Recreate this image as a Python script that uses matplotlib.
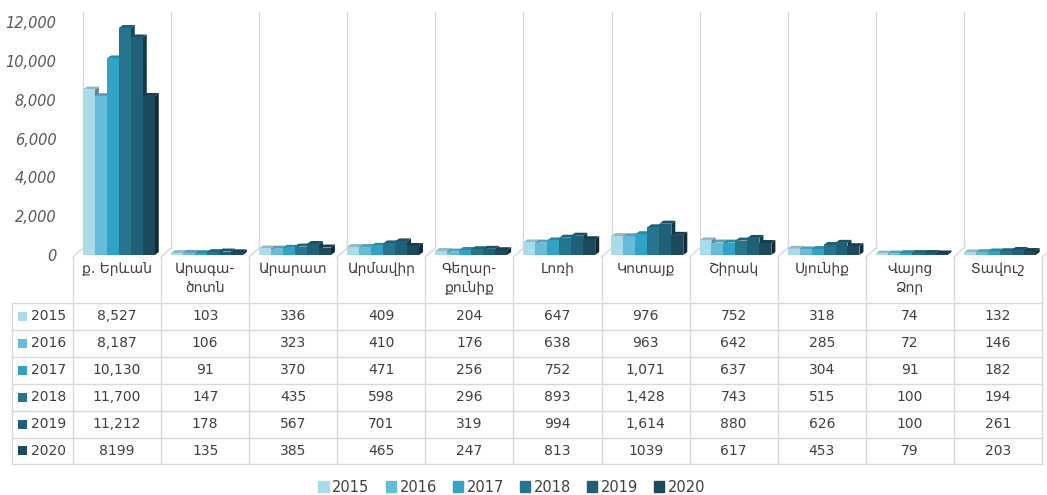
import numpy as np
import matplotlib
matplotlib.use('Agg')
import matplotlib.pyplot as plt
from matplotlib.patches import Polygon, Patch
from matplotlib.transforms import blended_transform_factory
from matplotlib.ticker import FuncFormatter

plt.rcParams['font.family'] = ['DejaVu Sans']

# regions and yearly counts
regions = ['ք. Երևան', 'Արագա-\nծոտն', 'Արարատ', 'Արմավիր', 'Գեղար-\nքունիք', 'Լոռի',
           'Կոտայք', 'Շիրակ', 'Սյունիք', 'Վայոց\nՁոր', 'Տավուշ']
years = ['2015', '2016', '2017', '2018', '2019', '2020']
v2015 = [8527, 103, 336, 409, 204, 647, 976, 752, 318, 74, 132]
v2016 = [8187, 106, 323, 410, 176, 638, 963, 642, 285, 72, 146]
v2017 = [10130, 91, 370, 471, 256, 752, 1071, 637, 304, 91, 182]
v2018 = [11700, 147, 435, 598, 296, 893, 1428, 743, 515, 100, 194]
v2019 = [11212, 178, 567, 701, 319, 994, 1614, 880, 626, 100, 261]
v2020 = [8199, 135, 385, 465, 247, 813, 1039, 617, 453, 79, 203]
series = [v2015, v2016, v2017, v2018, v2019, v2020]
# how the numbers are printed in the table (2020 row has no separators)
shown = [[f'{v:,}' for v in v2015], [f'{v:,}' for v in v2016], [f'{v:,}' for v in v2017],
         [f'{v:,}' for v in v2018], [f'{v:,}' for v in v2019], [str(v) for v in v2020]]

colors = ['#a9dbe9', '#64bcd8', '#31a3c7', '#24758d', '#1e6077', '#1a4a5b']

W, H = 1047, 495
fig = plt.figure(figsize=(W / 100, H / 100), dpi=100)

def fy(py):
    return 1 - py / H

def fx(px):
    return px / W

y0px, ytop = 255, 12
ppk = 19.4  # pixels per 1000
ymax = (y0px - ytop) / ppk * 1000
ax = fig.add_axes([fx(73), fy(y0px), fx(1042) - fx(73), fy(ytop) - fy(y0px)])
ax.set_xlim(-0.5, 10.5)
ax.set_ylim(0, ymax)
for s in ax.spines.values():
    s.set_visible(False)
ax.set_xticks([])
ax.set_yticks(np.arange(0, 12001, 2000))
ax.yaxis.set_major_formatter(FuncFormatter(lambda v, p: f'{int(v):,}'))
ax.tick_params(axis='y', length=0, pad=12, labelsize=10.5, labelcolor='#595959')
for t in ax.get_yticklabels():
    t.set_fontstyle('italic')

def shade(c, f):
    rgb = np.array(matplotlib.colors.to_rgb(c))
    return tuple(np.clip(rgb * f, 0, 1))

# pseudo-3D bars
bw = 0.136
dx = 4 / 88.1
dy = 3 / ppk * 1000
x = np.arange(len(regions))
z = 2
for j, vals in enumerate(series):
    left = x + 0.02 - 3 * bw + j * bw
    for xl, v in zip(left, vals):
        xr = xl + bw
        side = Polygon([(xr, 0), (xr + dx, dy), (xr + dx, v + dy), (xr, v)],
                       closed=True, fc=shade(colors[j], 0.6), ec='none', zorder=z)
        top = Polygon([(xl, v), (xl + dx, v + dy), (xr + dx, v + dy), (xr, v)],
                      closed=True, fc=shade(colors[j], 0.85), ec='none', zorder=z)
        ax.add_patch(side)
        ax.add_patch(top)
        ax.bar(xl, v, width=bw, align='edge', color=colors[j], zorder=z + 1)
        z += 2

# grid / table lines: x in data units, y in figure fraction
tr = blended_transform_factory(ax.transData, fig.transFigure)
gcol = '#d9d9d9'
back = 10 / 88.1
for b in np.arange(-0.5, 11, 1.0):
    ax.plot([b + back, b + back], [fy(ytop), fy(248)], color=gcol, lw=1,
            transform=tr, clip_on=False, zorder=0)
    ax.plot([b + back, b], [fy(248), fy(257)], color=gcol, lw=1,
            transform=tr, clip_on=False, zorder=0)
    ax.plot([b, b], [fy(257), fy(464)], color=gcol, lw=1,
            transform=tr, clip_on=False, zorder=0)

row_lines = [302.5, 329.5, 356.5, 383.5, 410.5, 437.5, 464]
for r in row_lines:
    fig.add_artist(plt.Line2D([fx(12), fx(1042)], [fy(r), fy(r)], color=gcol, lw=1))
fig.add_artist(plt.Line2D([fx(12), fx(12)], [fy(302.5), fy(464)], color=gcol, lw=1))

# category labels
for i, name in enumerate(regions):
    ax.text(i, fy(262), name, transform=tr, ha='center', va='top', fontsize=10,
            color='#404040', linespacing=1.45, clip_on=False)

# table body
for k, yr in enumerate(years):
    yc = (row_lines[k] + row_lines[k + 1]) / 2
    fig.add_artist(Polygon([(fx(17.5), fy(yc - 4.5)), (fx(26.5), fy(yc - 4.5)),
                            (fx(26.5), fy(yc + 4.5)), (fx(17.5), fy(yc + 4.5))],
                           closed=True, fc=colors[k], ec='none'))
    fig.text(fx(31), fy(yc), yr, ha='left', va='center', fontsize=10, color='#404040')
    for i in range(len(regions)):
        ax.text(i, fy(yc), shown[k][i], transform=tr, ha='center', va='center',
                fontsize=10, color='#404040', clip_on=False)

handles = [Patch(color=c) for c in colors]
fig.legend(handles, years, loc='center', bbox_to_anchor=(fx(512), fy(487)), ncol=6,
           frameon=False, fontsize=10.5, handlelength=0.7, handleheight=0.7,
           handletextpad=0.25, columnspacing=1.1, labelcolor='#404040')

fig.savefig('out.png', dpi=100, facecolor='white')
